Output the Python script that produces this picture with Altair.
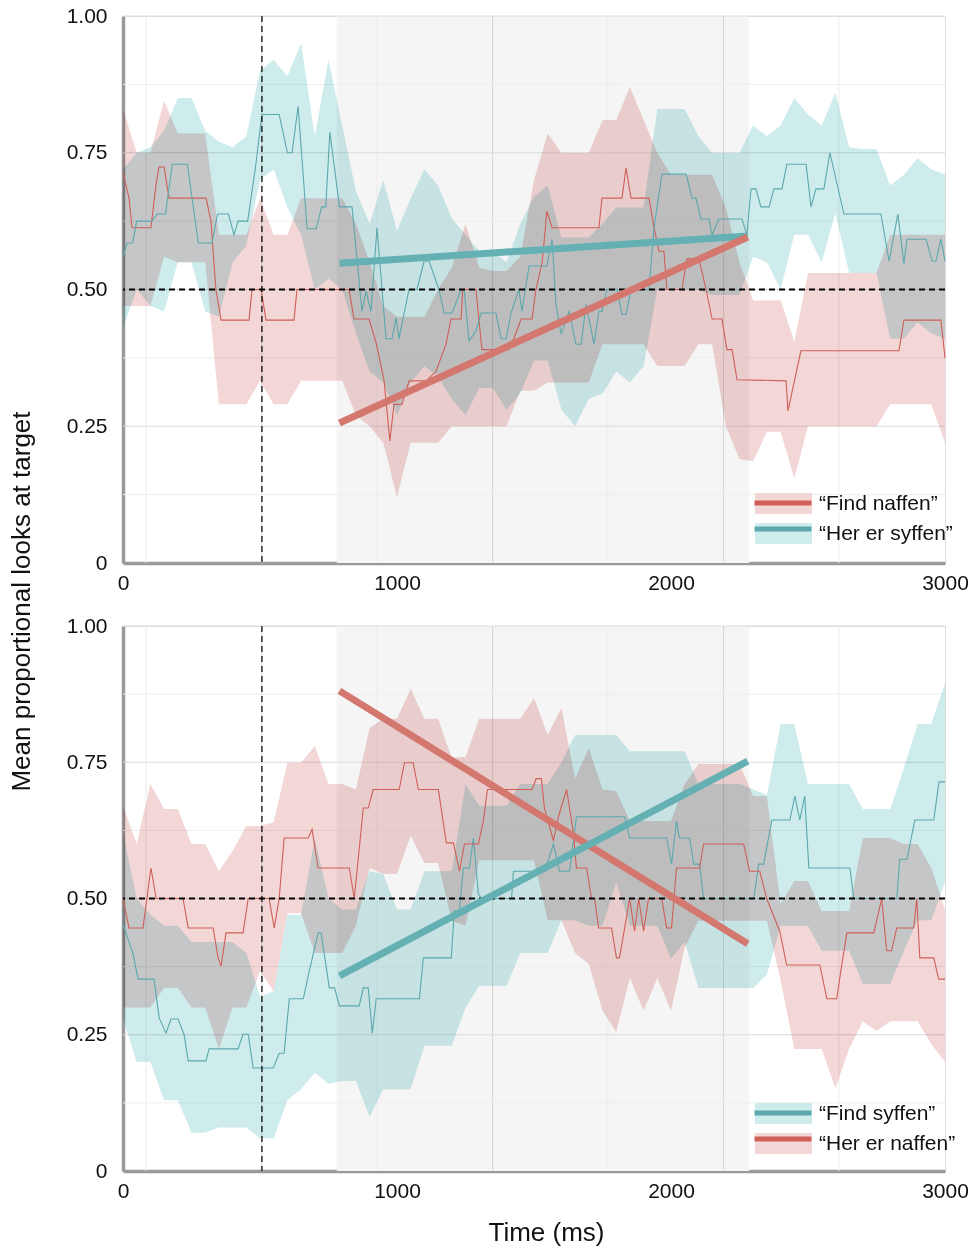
import altair as alt
import pandas as pd

# ---------------- data ----------------
T_GRID = list(range(0, 3001, 50))          # ribbon sampling times (ms)

TOP_RED_LABEL = "\u201cFind naffen\u201d"
TOP_TEAL_LABEL = "\u201cHer er syffen\u201d"
BOT_TEAL_LABEL = "\u201cFind syffen\u201d"
BOT_RED_LABEL = "\u201cHer er naffen\u201d"

# top panel, teal ribbon
TOP_TEAL_HI = [.72, .75, .76, .79, .85, .85, .79, .77, .76, .78, .90, .92, .89, .95, .78, .92, .80, .68, .62, .70,
               .607, .667, .72, .69, .63, .60, .57, .57, .55, .62, .67, .69, .595, .595, .595, .62, .65, .65, .65, .83,
               .83, .83, .78, .75, .75, .75, .80, .78, .80, .85, .82, .80, .86, .76, .757, .757, .69, .71, .74, .72, .71]
TOP_TEAL_LO = [.43, .50, .47, .46, .55, .55, .46, .45, .55, .58, .70, .72, .65, .60, .50, .52, .50, .42, .35, .33,
               .27, .33, .36, .34, .30, .27, .32, .32, .28, .31, .37, .37, .28, .25, .30, .31, .35, .33, .36, .50,
               .50, .50, .50, .49, .49, .49, .56, .55, .50, .60, .60, .55, .64, .53, .53, .53, .41, .41, .44, .42, .41]
# top panel, red ribbon
TOP_RED_HI = [.83, .75, .75, .845, .785, .785, .785, .60, .60, .60, .667, .60, .60, .667, .667, .667, .667, .62, .55, .47,
              .45, .45, .45, .50, .54, .62, .54, .534, .534, .56, .70, .785, .75, .75, .75, .81, .81, .87, .81, .75,
              .71, .71, .71, .71, .65, .55, .48, .48, .48, .405, .53, .53, .53, .53, .53, .53, .60, .60, .60, .60, .60]
TOP_RED_LO = [.47, .47, .47, .56, .55, .55, .55, .29, .29, .29, .333, .29, .29, .333, .333, .333, .333, .27, .25, .22,
              .12, .22, .22, .22, .25, .25, .25, .25, .25, .315, .315, .33, .33, .33, .33, .40, .40, .40, .40, .36,
              .36, .36, .40, .40, .25, .19, .186, .24, .24, .155, .25, .25, .25, .25, .25, .25, .29, .29, .29, .29, .22]

# top panel mean lines (breakpoints)
TOP_TEAL_MEAN_T = [0, 15, 35, 50, 105, 125, 155, 180, 235, 260, 275, 325, 345, 385, 405, 420, 455, 485, 507, 570,
                   600, 617, 639, 672, 705, 725, 740, 755, 790, 836, 872, 887, 905, 927, 960, 982, 996, 1007, 1044, 1073,
                   1099, 1117, 1153, 1172, 1201, 1234, 1245, 1263, 1288, 1307, 1361, 1380, 1398, 1416, 1445, 1456, 1482,
                   1547, 1566, 1580, 1599, 1628, 1653, 1672, 1690, 1719, 1737, 1748, 1766, 1803, 1821, 1836, 1854, 1920,
                   1938, 1967, 2055, 2077, 2091, 2109, 2139, 2150, 2175, 2259, 2277, 2292, 2310, 2328, 2358, 2376, 2405,
                   2423, 2493, 2511, 2529, 2558, 2580, 2631, 2766, 2796, 2828, 2850, 2861, 2931, 2953, 2967, 2985, 3000]
TOP_TEAL_MEAN_V = [.56, .585, .585, .625, .625, .638, .638, .729, .729, .638, .585, .585, .638, .638, .60, .625, .625, .729,
                   .82, .82, .75, .75, .835, .611, .611, .651, .651, .788, .651, .651, .46, .497, .46, .613, .41, .41,
                   .448, .41, .50, .50, .552, .552, .50, .457, .457, .50, .50, .406, .424, .457, .457, .41, .41, .457,
                   .50, .46, .543, .543, .592, .473, .418, .46, .40, .40, .473, .40, .46, .46, .50, .50, .455, .455,
                   .50, .50, .613, .711, .711, .667, .667, .629, .629, .60, .629, .629, .60, .684, .684, .651, .651,
                   .684, .684, .729, .729, .651, .684, .684, .75, .638, .638, .552, .638, .547, .592, .592, .552, .552,
                   .592, .552]
TOP_RED_MEAN_T = [0, 22, 33, 102, 120, 131, 150, 168, 303, 321, 339, 358, 460, 471, 504, 522, 624, 635, 825, 843, 898,
                  925, 953, 974, 989, 1018, 1044, 1106, 1142, 1179, 1197, 1234, 1240, 1288, 1310, 1409, 1434, 1453,
                  1493, 1507, 1530, 1547, 1566, 1737, 1748, 1821, 1836, 1854, 1920, 1938, 1956, 1974, 1985, 2040, 2058,
                  2102, 2128, 2150, 2186, 2204, 2223, 2241, 2420, 2427, 2474, 2832, 2850, 2985, 3000]
TOP_RED_MEAN_V = [.713, .667, .613, .613, .69, .724, .724, .667, .667, .625, .50, .444, .444, .50, .50, .444, .444, .50,
                  .50, .446, .446, .40, .333, .223, .29, .29, .333, .333, .35, .40, .446, .446, .50, .50, .39, .39, .42,
                  .446, .446, .50, .55, .643, .613, .613, .667, .667, .722, .667, .667, .613, .57, .57, .50, .50, .556,
                  .556, .50, .446, .446, .39, .39, .335, .333, .278, .388, .388, .444, .444, .375]

# bottom panel, teal ribbon
BOT_TEAL_HI = [.62, .50, .47, .45, .45, .42, .42, .42, .42, .40, .32, .33, .47, .47, .61, .50, .48, .48, .55, .545,
               .48, .48, .55, .55, .55, .71, .67, .67, .67, .71, .71, .71, .75, .80, .80, .80, .80, .77, .77, .77,
               .77, .77, .71, .71, .71, .71, .70, .69, .82, .82, .71, .71, .71, .71, .664, .664, .664, .74, .82, .82, .895]
BOT_TEAL_LO = [.28, .20, .20, .13, .13, .07, .07, .08, .08, .08, .06, .06, .13, .15, .18, .16, .165, .165, .10, .15,
               .15, .15, .23, .23, .23, .30, .34, .34, .34, .40, .40, .40, .46, .46, .45, .45, .53, .45, .45, .45,
               .39, .42, .336, .336, .336, .336, .336, .36, .45, .45, .45, .404, .404, .404, .343, .343, .343, .404,
               .46, .46, .53]
# bottom panel, red ribbon
BOT_RED_HI = [.67, .60, .71, .664, .664, .60, .60, .55, .587, .633, .633, .64, .749, .749, .78, .71, .71, .70, .813, .83,
              .83, .885, .83, .83, .758, .76, .83, .83, .83, .83, .868, .80, .85, .72, .776, .70, .697, .642, .642, .642,
              .642, .71, .747, .747, .747, .747, .688, .688, .49, .532, .532, .477, .477, .477, .611, .611, .611, .60,
              .60, .556, .48]
BOT_RED_LO = [.30, .30, .30, .336, .336, .30, .30, .224, .30, .30, .367, .33, .473, .473, .40, .40, .40, .45, .556, .545,
              .545, .615, .565, .565, .459, .45, .57, .57, .57, .57, .57, .46, .46, .40, .38, .294, .255, .354, .294,
              .354, .294, .41, .459, .459, .459, .459, .459, .459, .35, .224, .224, .224, .152, .224, .275, .257, .275,
              .275, .275, .233, .20]

BOT_TEAL_MEAN_T = [0, 37, 55, 113, 132, 157, 175, 201, 223, 238, 303, 314, 420, 438, 457, 475, 548, 570, 588, 607, 658,
                   676, 712, 723, 753, 772, 790, 862, 877, 895, 910, 924, 1082, 1096, 1198, 1209, 1228, 1242, 1264, 1279,
                   1297, 1308, 1418, 1425, 1509, 1540, 1571, 1593, 1630, 1655, 1831, 1849, 1984, 2002, 2020, 2031, 2068,
                   2083, 2104, 2119, 2302, 2320, 2338, 2368, 2434, 2452, 2470, 2488, 2503, 2653, 2667, 2824, 2835, 2861,
                   2890, 2959, 2978, 3000]
BOT_TEAL_MEAN_V = [.453, .398, .352, .352, .281, .253, .279, .279, .25, .202, .202, .224, .224, .251, .251, .189, .189,
                   .216, .216, .316, .316, .358, .437, .437, .336, .336, .303, .303, .336, .336, .253, .316, .316, .391,
                   .391, .477, .477, .556, .556, .611, .508, .50, .50, .55, .55, .55, .60, .55, .55, .65, .65, .611,
                   .611, .563, .642, .611, .611, .563, .563, .50, .50, .563, .563, .644, .644, .688, .644, .688, .556,
                   .556, .50, .50, .572, .572, .644, .644, .714, .714]
BOT_RED_MEAN_T = [0, 22, 73, 102, 121, 219, 238, 329, 347, 358, 376, 438, 457, 533, 552, 570, 588, 676, 690, 712, 826,
                  844, 877, 895, 913, 1008, 1027, 1059, 1078, 1151, 1180, 1206, 1228, 1246, 1297, 1315, 1330, 1493,
                  1508, 1527, 1538, 1571, 1589, 1619, 1644, 1655, 1692, 1710, 1721, 1736, 1783, 1801, 1812, 1831, 1849,
                  1867, 1882, 1900, 1918, 1966, 1984, 2002, 2020, 2104, 2119, 2265, 2287, 2324, 2349, 2397, 2422, 2543,
                  2569, 2605, 2623, 2642, 2740, 2769, 2787, 2805, 2824, 2886, 2897, 2908, 2959, 2977, 3000]
BOT_RED_MEAN_V = [.50, .446, .446, .556, .50, .50, .446, .446, .391, .376, .437, .437, .50, .50, .446, .50, .611, .611,
                  .627, .556, .556, .50, .666, .666, .70, .70, .749, .749, .70, .70, .602, .602, .55, .60, .60, .642,
                  .70, .70, .72, .72, .666, .606, .65, .70, .62, .556, .556, .50, .50, .446, .446, .391, .391, .446,
                  .50, .44, .50, .44, .50, .50, .446, .446, .556, .556, .60, .60, .55, .55, .50, .44, .378, .378, .316,
                  .316, .378, .437, .437, .50, .404, .404, .446, .446, .50, .391, .391, .352, .352]

# fitted lines over the analysis window (start, end)
REG_T = [790, 2280]
TOP_TEAL_REG = [.548, .598]
TOP_RED_REG = [.256, .596]
BOT_RED_REG = [.881, .417]
BOT_TEAL_REG = [.358, .752]

WINDOW_MS = [780, 2285]
ONSET_MS = [507]
CHANCE = [0.5]
X_TICKS = [0, 1000, 2000, 3000]
Y_TICKS = [0, 0.25, 0.5, 0.75, 1.0]
Y_MINOR = [0.125, 0.375, 0.625, 0.875]
X_GRID_MAJOR = [507, 1349, 2192]
X_GRID_MINOR = [84, 927, 1770, 2613]

# ---------------- styling ----------------
FONT = "Liberation Sans"
PINK = "#f3d6d6"
TEAL_L = "#cfeced"
RED = "#cf5f57"
TEAL = "#5ba8ad"
RED_REG = "#d4776e"
TEAL_REG = "#64b0b3"
RECT_PATH = "M-2.714,-1L2.714,-1L2.714,1L-2.714,1Z"
LINE_PATH = "M-2.714,0L2.714,0"
HIDE = "\u200b"     # keeps the line legend's domain distinct so it is not merged with the band legend
W = 822
TICK_FS = 21
TITLE_FS = 26


def panel(ribbons, means, regs, domain, fills, strokes, height, x_axis, y_axis):
    xs = alt.Scale(domain=[0, 3000], nice=False, zero=False)
    ys = alt.Scale(domain=[0, 1], nice=False, zero=False)

    def X(f):
        return alt.X(f, type="quantitative", scale=xs, axis=x_axis)

    def Y(f):
        return alt.Y(f, type="quantitative", scale=ys, axis=y_axis)

    shade = alt.Chart(pd.DataFrame({"t": [WINDOW_MS[0]], "t2": [WINDOW_MS[1]], "v": [0.0], "v2": [1.0]})).mark_rect(
        color="#f5f5f5").encode(x=X("t"), x2="t2", y=Y("v"), y2="v2")
    vmin = alt.Chart(pd.DataFrame({"t": X_GRID_MINOR})).mark_rule(color="#ececec", strokeWidth=1).encode(x=X("t"))
    vmaj = alt.Chart(pd.DataFrame({"t": X_GRID_MAJOR})).mark_rule(color="#d4d4d4", strokeWidth=1).encode(x=X("t"))
    hmin = alt.Chart(pd.DataFrame({"v": Y_MINOR})).mark_rule(color="#eeeeee", strokeWidth=1).encode(y=Y("v"))
    hmaj = alt.Chart(pd.DataFrame({"v": Y_TICKS[1:]})).mark_rule(color="#dcdcdc", strokeWidth=1).encode(y=Y("v"))

    rib = pd.concat([pd.DataFrame({"t": T_GRID, "lo": lo, "hi": hi, "series": name}) for name, lo, hi in ribbons])
    area = alt.Chart(rib).mark_area(blend="multiply", opacity=1, interpolate="linear").encode(
        x=X("t"), y=Y("lo"), y2="hi",
        fill=alt.Fill("series:N", scale=alt.Scale(domain=domain, range=fills),
                      legend=alt.Legend(title=None, orient="none", legendX=650, legendY=477, padding=0,
                                        symbolType=RECT_PATH, symbolSize=441, symbolStrokeWidth=0,
                                        symbolOpacity=1, labelFont=FONT, labelFontSize=TICK_FS,
                                        labelColor="#111111", labelOffset=25, rowPadding=8)),
        detail="series:N")

    chance = alt.Chart(pd.DataFrame({"v": CHANCE})).mark_rule(color="black", strokeWidth=2.2,
                                                               strokeDash=[6, 4]).encode(y=Y("v"))
    onset = alt.Chart(pd.DataFrame({"t": ONSET_MS})).mark_rule(color="black", strokeWidth=1.2,
                                                                strokeDash=[6, 4]).encode(x=X("t"))

    mdf = pd.concat([pd.DataFrame({"t": t, "m": v, "series_s": name + HIDE}) for name, t, v in means])
    mline = alt.Chart(mdf).mark_line(strokeWidth=1.1).encode(
        x=X("t"), y=Y("m"),
        stroke=alt.Stroke("series_s:N", scale=alt.Scale(domain=[d + HIDE for d in domain], range=strokes),
                          legend=alt.Legend(title=None, orient="none", legendX=647, legendY=474, padding=0,
                                            symbolType=LINE_PATH, symbolSize=441, symbolStrokeWidth=5,
                                            labelExpr="''", labelFont=FONT, labelFontSize=TICK_FS,
                                            labelOffset=25, rowPadding=3)),
        order="t:Q")

    reg_layers = []
    for vals, col in regs:
        reg_layers.append(alt.Chart(pd.DataFrame({"t": REG_T, "r": vals})).mark_line(
            strokeWidth=7, strokeCap="butt", color=col).encode(x=X("t"), y=Y("r")))

    return alt.layer(shade, vmin, vmaj, hmin, hmaj, area, mline, chance, onset, *reg_layers).properties(
        width=W, height=height)


def x_axis(title):
    kw = dict(values=X_TICKS, format="d", grid=False, ticks=False, domain=True, domainColor="#9a9a9a",
              domainWidth=3.5, labelFont=FONT, labelFontSize=TICK_FS, labelColor="#111111", labelPadding=9,
              labelFlush=False)
    if title:
        kw.update(title=title, titleFont=FONT, titleFontSize=TITLE_FS, titleFontWeight="normal",
                  titleColor="#111111", titleX=423, titleY=69, titleAlign="center", titleBaseline="alphabetic")
    else:
        kw.update(title=None)
    return alt.Axis(**kw)


def y_axis(title):
    kw = dict(values=Y_TICKS, labelExpr="datum.value == 0 ? '0' : format(datum.value, '.2f')", grid=False,
              ticks=False, domain=True, domainColor="#9a9a9a", domainWidth=3.5, labelFont=FONT,
              labelFontSize=TICK_FS, labelColor="#111111", labelPadding=16, labelFlush=False)
    if title:
        kw.update(title=title, titleFont=FONT, titleFontSize=TITLE_FS, titleFontWeight="normal",
                  titleColor="#111111", titleX=-94, titleY=585, titleAngle=-90, titleAlign="center",
                  titleBaseline="alphabetic")
    else:
        kw.update(title=None)
    return alt.Axis(**kw)


top = panel(
    ribbons=[(TOP_RED_LABEL, TOP_RED_LO, TOP_RED_HI), (TOP_TEAL_LABEL, TOP_TEAL_LO, TOP_TEAL_HI)],
    means=[(TOP_RED_LABEL, TOP_RED_MEAN_T, TOP_RED_MEAN_V), (TOP_TEAL_LABEL, TOP_TEAL_MEAN_T, TOP_TEAL_MEAN_V)],
    regs=[(TOP_TEAL_REG, TEAL_REG), (TOP_RED_REG, RED_REG)],
    domain=[TOP_RED_LABEL, TOP_TEAL_LABEL], fills=[PINK, TEAL_L], strokes=[RED, TEAL],
    height=547, x_axis=x_axis(None), y_axis=y_axis("Mean proportional looks at target"))

bottom = panel(
    ribbons=[(BOT_TEAL_LABEL, BOT_TEAL_LO, BOT_TEAL_HI), (BOT_RED_LABEL, BOT_RED_LO, BOT_RED_HI)],
    means=[(BOT_TEAL_LABEL, BOT_TEAL_MEAN_T, BOT_TEAL_MEAN_V), (BOT_RED_LABEL, BOT_RED_MEAN_T, BOT_RED_MEAN_V)],
    regs=[(BOT_RED_REG, RED_REG), (BOT_TEAL_REG, TEAL_REG)],
    domain=[BOT_TEAL_LABEL, BOT_RED_LABEL], fills=[TEAL_L, PINK], strokes=[TEAL, RED],
    height=545, x_axis=x_axis("Time (ms)"), y_axis=y_axis(None))

chart = alt.vconcat(top, bottom, spacing=63, bounds="flush").resolve_scale(
    fill="independent", stroke="independent").resolve_legend(
    fill="independent", stroke="independent").properties(
    padding={"left": 7, "top": 4, "right": 5, "bottom": 5}, background="white").configure_view(
    stroke=None).configure(font=FONT)

chart.save("out.html", embed_options={"renderer": "svg", "actions": False})
